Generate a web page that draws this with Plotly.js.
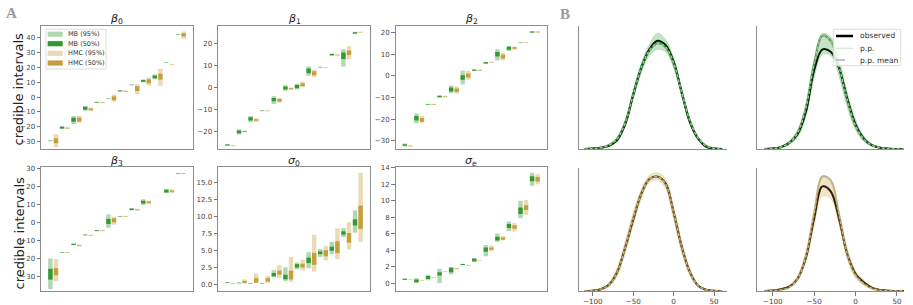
<!DOCTYPE html>
<html><head><meta charset="utf-8">
<script src="https://cdn.plot.ly/plotly-3.0.1.min.js"></script>
<style>html,body{margin:0;padding:0;background:#fff}#chart{width:913px;height:305px}</style>
</head><body><div id="chart"></div>
<script>
// ---------- DATA: panel A (credible intervals, [low, high]) ----------
const groups = [0,1,2,3,4,5,6,7,8,9,10,11];

const b0_mb95  = [[-29.7,-29.1],[-21.5,-19.7],[-18.2,-12.8],[-9.2,-6.1],[-4.0,-3.2],[-1.5,-0.9],[3.6,4.8],[7.9,8.5],[10.0,11.8],[12.0,15.2],[23.1,23.7],[41.9,42.5]];
const b0_mb50  = [[-29.5,-29.3],[-21.2,-20.0],[-16.6,-13.9],[-8.5,-6.5],[-3.8,-3.4],[-1.3,-1.1],[3.9,4.5],[8.1,8.3],[10.3,11.5],[12.7,14.5],[23.3,23.5],[42.1,42.3]];
const b0_hmc95 = [[-33.8,-25.0],[-21.4,-20.3],[-17.3,-12.6],[-9.2,-7.0],[-4.2,-3.4],[-3.2,1.7],[3.4,4.6],[2.0,8.7],[7.8,13.2],[7.6,19.2],[21.6,22.2],[39.3,44.3]];
const b0_hmc50 = [[-31.1,-27.8],[-21.1,-20.6],[-16.4,-13.7],[-8.8,-7.6],[-3.9,-3.6],[-2.1,0.6],[3.8,4.2],[4.2,7.3],[9.4,12.0],[11.8,15.8],[21.8,22.0],[40.9,43.1]];

const b1_mb95  = [[-26.4,-25.4],[-21.2,-18.8],[-15.5,-12.8],[-10.7,-10.1],[-7.4,-3.9],[-1.4,1.1],[-0.75,1.7],[5.3,9.5],[9.0,9.4],[14.4,15.4],[9.5,17.3],[24.2,25.2]];
const b1_mb50  = [[-26.1,-25.7],[-20.6,-19.4],[-14.9,-13.4],[-10.5,-10.3],[-6.2,-4.7],[-0.9,0.45],[-0.3,1.2],[6.5,8.6],[9.15,9.25],[14.6,15.2],[12.9,15.8],[24.4,25.0]];
const b1_hmc95 = [[-26.6,-26.0],[-20.3,-19.3],[-15.5,-13.8],[-10.8,-10.2],[-6.8,-4.7],[-1.05,0.0],[0.15,2.6],[4.7,8.0],[8.9,9.3],[14.4,15.0],[12.8,18.8],[24.7,25.3]];
const b1_hmc50 = [[-26.4,-26.2],[-20.0,-19.6],[-15.0,-14.3],[-10.6,-10.4],[-6.3,-5.1],[-0.75,-0.3],[0.6,2.0],[5.6,7.4],[9.05,9.15],[14.6,14.8],[14.7,16.7],[24.9,25.1]];

const b2_mb95  = [[-32.5,-31.2],[-21.8,-17.4],[-13.4,-12.8],[-10.0,-9.0],[-8.0,-4.5],[-4.0,2.5],[2.2,3.0],[5.5,6.5],[7.1,12.3],[11.5,13.8],[15.2,15.6],[19.8,20.6]];
const b2_mb50  = [[-32.2,-31.5],[-20.6,-18.5],[-13.2,-13.0],[-9.8,-9.2],[-7.2,-5.4],[-1.8,0.3],[2.35,2.85],[5.7,6.3],[8.9,11.0],[12.0,13.4],[15.35,15.45],[20.0,20.4]];
const b2_hmc95 = [[-32.6,-32.0],[-21.8,-18.5],[-13.4,-12.8],[-9.8,-9.2],[-8.3,-4.9],[-1.8,2.3],[2.3,2.9],[5.9,6.5],[7.1,10.5],[12.0,13.5],[15.2,15.6],[19.9,20.5]];
const b2_hmc50 = [[-32.4,-32.2],[-21.2,-19.4],[-13.2,-13.0],[-9.6,-9.4],[-7.4,-5.8],[-0.8,1.1],[2.5,2.7],[6.1,6.3],[8.0,9.7],[12.5,13.2],[15.35,15.45],[20.1,20.3]];

const b3_mb95  = [[-37.0,-20.0],[-17.0,-16.4],[-12.7,-11.7],[-7.4,-6.6],[-5.0,-4.2],[-3.0,4.4],[3.0,3.6],[6.6,7.8],[9.6,12.8],[14.0,14.1],[16.1,18.5],[26.7,27.3]];
const b3_mb50  = [[-31.7,-25.7],[-16.8,-16.6],[-12.5,-11.9],[-7.1,-6.9],[-4.8,-4.4],[-0.9,1.9],[3.2,3.4],[6.8,7.6],[10.4,11.9],[14.04,14.06],[16.5,18.0],[26.9,27.1]];
const b3_hmc95 = [[-32.6,-20.4],[-17.0,-16.4],[-13.3,-12.3],[-7.6,-6.8],[-5.0,-4.2],[-1.3,3.1],[3.0,3.6],[6.4,7.4],[10.0,12.0],[14.0,14.1],[16.1,18.3],[26.7,27.3]];
const b3_hmc50 = [[-29.3,-25.4],[-16.8,-16.6],[-13.0,-12.6],[-7.3,-7.1],[-4.7,-4.5],[0.0,2.2],[3.2,3.4],[6.7,7.1],[10.6,11.5],[14.04,14.06],[16.9,17.6],[26.9,27.1]];

const s0_mb95  = [[0.25,0.43],[0.23,0.37],[0.14,0.26],[0.14,0.26],[1.1,2.15],[0.6,2.6],[2.3,3.3],[2.45,4.8],[4.1,5.25],[4.5,6.3],[7.0,8.3],[7.65,10.9]];
const s0_mb50  = [[0.3,0.38],[0.27,0.33],[0.18,0.22],[0.18,0.22],[1.27,1.75],[0.83,1.5],[2.55,3.05],[3.2,4.0],[4.5,4.9],[5.0,5.6],[7.35,7.85],[8.7,9.6]];
const s0_hmc95 = [[0.13,0.27],[0.2,0.83],[0.3,1.7],[0.3,1.3],[1.0,2.9],[0.44,4.1],[2.15,3.7],[1.96,7.35],[3.6,5.7],[3.8,8.3],[5.2,9.2],[6.3,16.4]];
const s0_hmc50 = [[0.18,0.22],[0.3,0.6],[0.34,1.0],[0.5,1.0],[1.5,2.1],[0.8,2.1],[2.55,3.1],[2.95,4.7],[4.2,5.1],[4.65,6.4],[6.2,7.6],[8.2,11.6]];

const se_mb95  = [[0.42,0.62],[0.08,0.65],[0.4,1.05],[0.08,1.8],[1.13,2.0],[2.2,2.4],[2.6,3.1],[3.3,4.65],[5.05,6.05],[6.35,7.5],[7.9,10.0],[11.8,13.4]];
const se_mb50  = [[0.47,0.57],[0.15,0.5],[0.56,0.9],[0.96,1.37],[1.37,1.9],[2.23,2.37],[2.7,3.0],[3.85,4.35],[5.2,5.65],[6.7,7.2],[8.4,9.2],[12.35,12.95]];
const se_hmc95 = [[0.47,0.53],[0.32,0.4],[0.68,0.76],[1.41,1.49],[1.7,1.88],[2.14,2.26],[2.74,2.86],[3.9,4.6],[5.2,5.7],[6.3,7.3],[8.3,10.1],[12.0,13.2]];
const se_hmc50 = [[0.49,0.51],[0.35,0.37],[0.71,0.73],[1.44,1.46],[1.77,1.83],[2.18,2.22],[2.78,2.82],[4.08,4.35],[5.3,5.55],[6.63,7.05],[8.9,9.47],[12.34,12.87]];

const seriesNames = ['MB (95%)','MB (50%)','HMC (95%)','HMC (50%)'];

// ---------- DATA: panel B (densities, scaled) ----------
const gridX = [-110,-100,-90,-80,-70,-60,-50,-40,-30,-20,-10,0,10,20,30,40,50,60];

const tl_obs  = [0,0.005,0.01,0.025,0.07,0.20,0.44,0.66,0.81,0.88,0.845,0.71,0.46,0.22,0.085,0.02,0.004,0];
const tl_mean = [0,0.004,0.01,0.03,0.08,0.21,0.44,0.66,0.80,0.86,0.83,0.70,0.46,0.23,0.09,0.025,0.005,0];
const tl_lo   = [0,0.002,0.007,0.022,0.065,0.18,0.40,0.62,0.76,0.81,0.79,0.66,0.43,0.21,0.078,0.019,0.003,0];
const tl_hi   = [0,0.006,0.014,0.038,0.095,0.24,0.48,0.70,0.85,0.94,0.89,0.74,0.49,0.25,0.10,0.03,0.007,0];

const tr_obs  = [0,0.004,0.015,0.05,0.12,0.30,0.64,0.81,0.79,0.66,0.41,0.20,0.085,0.03,0.01,0.003,0,0];
const tr_mean = [0,0.004,0.015,0.05,0.13,0.33,0.69,0.92,0.88,0.67,0.40,0.19,0.08,0.03,0.01,0.003,0,0];
const tr_lo   = [0,0.002,0.01,0.037,0.095,0.26,0.58,0.77,0.76,0.59,0.34,0.155,0.062,0.02,0.006,0.001,0,0];
const tr_hi   = [0,0.006,0.022,0.065,0.155,0.37,0.73,0.94,0.91,0.73,0.46,0.24,0.105,0.042,0.014,0.005,0.001,0];

const bl_obs  = [0,0.003,0.014,0.05,0.15,0.35,0.58,0.79,0.91,0.93,0.875,0.64,0.36,0.155,0.045,0.01,0.002,0];
const bl_mean = [0,0.003,0.014,0.05,0.15,0.35,0.59,0.79,0.91,0.93,0.87,0.64,0.36,0.155,0.045,0.01,0.002,0];
const bl_lo   = [0,0.001,0.009,0.037,0.115,0.30,0.53,0.75,0.88,0.90,0.83,0.58,0.31,0.125,0.034,0.006,0.001,0];
const bl_hi   = [0,0.006,0.021,0.068,0.185,0.40,0.64,0.83,0.94,0.96,0.915,0.69,0.41,0.185,0.058,0.015,0.004,0];

const br_obs  = [0,0.004,0.015,0.035,0.10,0.27,0.59,0.85,0.81,0.59,0.30,0.14,0.07,0.025,0.008,0.002,0,0];
const br_mean = [0,0.003,0.01,0.03,0.10,0.28,0.63,0.93,0.90,0.62,0.30,0.13,0.06,0.02,0.006,0.001,0,0];
const br_lo   = [0,0.002,0.008,0.026,0.08,0.23,0.53,0.77,0.75,0.54,0.26,0.105,0.047,0.016,0.004,0.001,0,0];
const br_hi   = [0,0.006,0.019,0.048,0.125,0.32,0.66,0.94,0.90,0.65,0.35,0.165,0.088,0.034,0.011,0.004,0.001,0];

const bTicks = [-100,-50,0,50];
const bLegendNames = ['observed','p.p.','p.p. mean'];

// ---------- LAYOUT HELPERS ----------
const W = 913, H = 305;
const px = x => x / W;
const py = y => 1 - y / H;
const FONT = 'DejaVu Sans, Verdana, sans-serif';
const FRAME = '#8c8c8c';

const COL = {mb95:'#b2d8b2', mb50:'#339933', hmc95:'#eadbb6', hmc50:'#c69e3c'};

const panelsA = [
  {title:'<i>β</i><sub>0</sub>', s:[b0_mb95,b0_mb50,b0_hmc95,b0_hmc50], xb:[41,193],  yb:[25.5,149], range:[-35,48.3], dtick:10},
  {title:'<i>β</i><sub>1</sub>', s:[b1_mb95,b1_mb50,b1_hmc95,b1_hmc50], xb:[218,370], yb:[25.5,149], range:[-27.7,28], dtick:10},
  {title:'<i>β</i><sub>2</sub>', s:[b2_mb95,b2_mb50,b2_hmc95,b2_hmc50], xb:[395.5,547], yb:[25.5,149], range:[-33.7,23.2], dtick:10},
  {title:'<i>β</i><sub>3</sub>', s:[b3_mb95,b3_mb50,b3_hmc95,b3_hmc50], xb:[41,193],  yb:[167,291], range:[-38,30.6], dtick:10},
  {title:'<i>σ</i><sub>0</sub>', s:[s0_mb95,s0_mb50,s0_hmc95,s0_hmc50], xb:[218,370], yb:[167,291], range:[-0.88,17.25], dtick:2.5, fmt:'.1f'},
  {title:'<i>σ</i><sub><i>e</i></sub>', s:[se_mb95,se_mb50,se_hmc95,se_hmc50], xb:[395.5,547], yb:[167,291], range:[-0.9,14.08], dtick:2},
];
const seriesStyle = [
  {off:-0.24, color:COL.mb95}, {off:-0.24, color:COL.mb50},
  {off: 0.24, color:COL.hmc95}, {off: 0.24, color:COL.hmc50}
];

const panelsB = [
  {obs:tl_obs, mean:tl_mean, lo:tl_lo, hi:tl_hi, rgb:'0,128,0',    core:0.7, xb:[579,727], yb:[26,149],  range:[-117,66],  ticks:false},
  {obs:tr_obs, mean:tr_mean, lo:tr_lo, hi:tr_hi, rgb:'0,128,0',    core:0.6, xb:[757,904], yb:[26,149],  range:[-119,58.5], ticks:false},
  {obs:bl_obs, mean:bl_mean, lo:bl_lo, hi:bl_hi, rgb:'184,134,11', core:0.5, xb:[579,727], yb:[168,291], range:[-117,66],  ticks:true},
  {obs:br_obs, mean:br_mean, lo:br_lo, hi:br_hi, rgb:'184,134,11', core:0.5, xb:[757,904], yb:[168,291], range:[-119,58.5], ticks:true},
];

const traces = [];
const layout = {
  width: W, height: H, margin:{l:0,r:0,t:0,b:0},
  paper_bgcolor:'#fff', plot_bgcolor:'#fff',
  showlegend:false, barmode:'overlay',
  font:{family:FONT, color:'#333'},
  annotations:[], shapes:[]
};

panelsA.forEach((p, i) => {
  const k = i + 1;
  const xa = k === 1 ? 'x' : 'x' + k, ya = k === 1 ? 'y' : 'y' + k;
  p.s.forEach((arr, j) => {
    traces.push({
      type:'bar', xaxis:xa, yaxis:ya, name:seriesNames[j],
      x: groups.map(g => g + seriesStyle[j].off),
      base: arr.map(v => v[0]),
      y: arr.map(v => v[1] - v[0]),
      width: 0.38,
      marker:{color:seriesStyle[j].color, line:{width:0}},
      hoverinfo:'skip'
    });
  });
  layout['xaxis' + (k===1?'':k)] = {
    domain:[px(p.xb[0]), px(p.xb[1])], anchor:ya, range:[-1.05,12.05],
    showline:true, mirror:true, linecolor:FRAME, linewidth:1,
    showgrid:false, zeroline:false, showticklabels:false, ticks:''
  };
  layout['yaxis' + (k===1?'':k)] = {
    domain:[py(p.yb[1]), py(p.yb[0])], anchor:xa, range:p.range,
    dtick:p.dtick, tick0:0, tickformat:p.fmt || '',
    showline:true, mirror:true, linecolor:FRAME, linewidth:1,
    showgrid:false, zeroline:false,
    ticks:'outside', ticklen:3.5, tickwidth:0.8, tickcolor:'#555',
    tickfont:{size:7, color:'#444', family:FONT}
  };
  layout.annotations.push({
    xref:'paper', yref:'paper', x:px((p.xb[0]+p.xb[1])/2), y:py(p.yb[0]-6),
    xanchor:'center', yanchor:'middle', showarrow:false,
    text:p.title, font:{size:11, color:'#222', family:FONT}
  });
});

panelsB.forEach((p, i) => {
  const k = i + 7;
  const xa = 'x' + k, ya = 'y' + k;
  traces.push({type:'scatter', mode:'lines', xaxis:xa, yaxis:ya, x:gridX, y:p.obs,
    line:{color:'#000', width:2, shape:'spline', smoothing:1}, hoverinfo:'skip'});
  traces.push({type:'scatter', mode:'lines', xaxis:xa, yaxis:ya, x:gridX, y:p.lo,
    line:{color:'rgba(' + p.rgb + ',0.25)', width:0.7, shape:'spline', smoothing:1}, hoverinfo:'skip'});
  traces.push({type:'scatter', mode:'lines', xaxis:xa, yaxis:ya, x:gridX, y:p.hi, fill:'tonexty',
    fillcolor:'rgba(' + p.rgb + ',0.22)',
    line:{color:'rgba(' + p.rgb + ',0.25)', width:0.7, shape:'spline', smoothing:1}, hoverinfo:'skip'});
  traces.push({type:'scatter', mode:'lines', xaxis:xa, yaxis:ya, x:gridX, y:p.mean,
    line:{color:'rgba(' + p.rgb + ',' + p.core + ')', width:2.2, shape:'spline', smoothing:1}, hoverinfo:'skip'});
  traces.push({type:'scatter', mode:'lines', xaxis:xa, yaxis:ya, x:gridX, y:p.mean,
    line:{color:'#b4b4b4', width:1.4, dash:'3px,2px', shape:'spline', smoothing:1}, hoverinfo:'skip'});
  layout['xaxis' + k] = {
    domain:[px(p.xb[0]), px(p.xb[1])], anchor:ya, range:p.range,
    showline:true, linecolor:FRAME, linewidth:1, mirror:false,
    showgrid:false, zeroline:false,
    tickvals:bTicks, showticklabels:p.ticks, ticks:p.ticks ? 'outside' : '',
    ticklen:3.5, tickwidth:0.8, tickcolor:'#555',
    tickfont:{size:7.2, color:'#444', family:FONT}
  };
  layout['yaxis' + k] = {
    domain:[py(p.yb[1]), py(p.yb[0])], anchor:xa, range:[0,1],
    showline:true, linecolor:FRAME, linewidth:1, mirror:false,
    showgrid:false, zeroline:false, showticklabels:false, ticks:''
  };
});

// y-axis labels "credible intervals"
[89, 233].forEach(yc => layout.annotations.push({
  xref:'paper', yref:'paper', x:px(18.5), y:py(yc), xanchor:'center', yanchor:'middle',
  showarrow:false, textangle:-90, text:'credible intervals',
  font:{size:13, color:'#222', family:FONT}
}));

// panel letters
[['A',11,13],['B',565,14]].forEach(([t,x,y]) => layout.annotations.push({
  xref:'paper', yref:'paper', x:px(x), y:py(y), xanchor:'center', yanchor:'middle',
  showarrow:false, text:'<b>' + t + '</b>',
  font:{size:15, color:'#9a9a9a', family:'Liberation Serif, DejaVu Serif, serif'}
}));

// legend for panel A (drawn in the beta_0 box)
layout.shapes.push({type:'rect', xref:'paper', yref:'paper', x0:px(46), x1:px(106), y0:py(69), y1:py(29.3),
  fillcolor:'rgba(255,255,255,0.85)', line:{color:'#d4d4d4', width:0.8}, layer:'above'});
const legAy = [34.2, 43.7, 53.3, 63.0];
const legAc = [COL.mb95, COL.mb50, COL.hmc95, COL.hmc50];
seriesNames.forEach((n, j) => {
  layout.shapes.push({type:'rect', xref:'paper', yref:'paper', x0:px(47.7), x1:px(62.7),
    y0:py(legAy[j]+2.6), y1:py(legAy[j]-2.6), fillcolor:legAc[j], line:{width:0}, layer:'above'});
  layout.annotations.push({xref:'paper', yref:'paper', x:px(66.3), y:py(legAy[j]), xanchor:'left', yanchor:'middle',
    showarrow:false, text:n, font:{size:6.5, color:'#333', family:FONT}});
});

// legend for panel B
layout.shapes.push({type:'rect', xref:'paper', yref:'paper', x0:px(833.3), x1:px(900.7), y0:py(65.7), y1:py(29.3),
  fillcolor:'rgba(255,255,255,0.85)', line:{color:'#d4d4d4', width:0.8}, layer:'above'});
const legBy = [36, 48.3, 60];
const legBl = [{color:'#000', width:2.5}, {color:'#d2ead2', width:1.2}, {color:'#aaaaaa', width:1.4, dash:'dash'}];
bLegendNames.forEach((n, j) => {
  layout.shapes.push({type:'line', xref:'paper', yref:'paper', x0:px(836), x1:px(853),
    y0:py(legBy[j]), y1:py(legBy[j]), line:legBl[j], layer:'above'});
  layout.annotations.push({xref:'paper', yref:'paper', x:px(857.5), y:py(legBy[j]), xanchor:'left', yanchor:'middle',
    showarrow:false, text:n, font:{size:7.6, color:'#333', family:FONT}});
});

Plotly.newPlot('chart', traces, layout, {staticPlot:true, displayModeBar:false});
</script>
</body></html>
